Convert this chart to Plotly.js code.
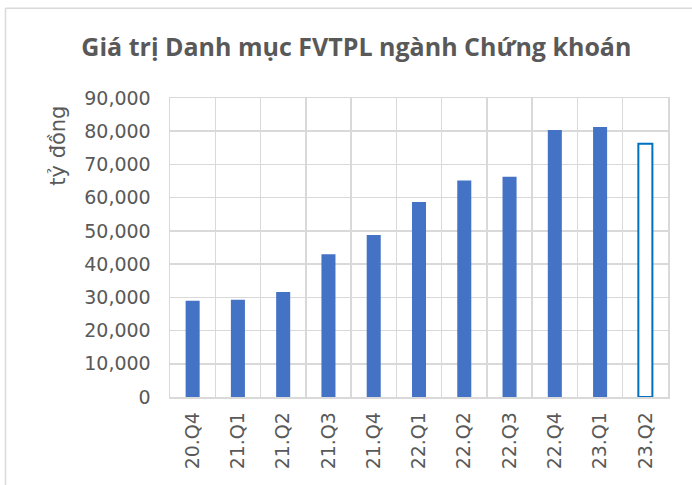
<!DOCTYPE html>
<html>
<head>
<meta charset="utf-8">
<script src="https://cdn.plot.ly/plotly-3.0.1.min.js"></script>
<style>
html,body{margin:0;padding:0;background:#fff;}
#chart{width:692px;height:485px;}
</style>
</head>
<body>
<div id="chart"></div>
<script>
const categories = ["20.Q4","21.Q1","21.Q2","21.Q3","21.Q4","22.Q1","22.Q2","22.Q3","22.Q4","23.Q1","23.Q2"];
const values = [29000, 29300, 31600, 43000, 48800, 58700, 65200, 66300, 80400, 81300, 76200];
const yTickVals = [0,10000,20000,30000,40000,50000,60000,70000,80000,90000];
const titleText = "Giá trị Danh mục FVTPL ngành Chứng khoán";
const yTitleText = "tỷ đồng";

const solid = "#4472C4";
const lastFill = "#FFFFFF";
const lastLine = "#0070C0";
const n = categories.length;
const fillColors = categories.map((c,i)=> i===n-1 ? lastFill : solid);
const lineColors = categories.map((c,i)=> i===n-1 ? lastLine : solid);
const lineWidths = categories.map((c,i)=> i===n-1 ? 2 : 0);

const trace = {
  type: "bar",
  x: categories,
  y: values,
  width: 0.31,
  marker: {color: fillColors, line: {color: lineColors, width: lineWidths}},
  hoverinfo: "x+y"
};

const textColor = "#595959";
const grid = "#D9D9D9";

const layout = {
  width: 692, height: 485,
  margin: {l:170, r:24, t:98, b:88},
  paper_bgcolor: "#fff", plot_bgcolor: "#fff",
  showlegend: false,
  title: {text: titleText, x: 0.515, xanchor: "center", y: 0.903, yanchor: "middle",
          font: {family: "Open Sans, sans-serif", size: 25, color: textColor, weight: 700}},
  xaxis: {type: "category", tickson: "boundaries", showgrid: true, gridcolor: grid, gridwidth: 1.5,
          ticks: "", tickangle: -90, tickfont: {family: "DejaVu Sans, sans-serif", size: 19, color: textColor},
          showline: true, linecolor: grid, linewidth: 1.5, mirror: true, zeroline: false,
          range: [-0.5, n-0.5], ticklabelstandoff: 6},
  yaxis: {range: [0, 90000], tickvals: yTickVals, tickformat: ",", showgrid: true, gridcolor: grid, gridwidth: 1.5,
          ticks: "", tickfont: {family: "DejaVu Sans, sans-serif", size: 19, color: textColor},
          showline: true, linecolor: grid, linewidth: 1.5, mirror: true, zeroline: false,
          ticklabelstandoff: 14},
  annotations: [{text: yTitleText, xref: "paper", yref: "paper",
                 x: (58-170)/498, y: (397.3-146)/299, xanchor: "center", yanchor: "middle",
                 textangle: -90, showarrow: false,
                 font: {family: "DejaVu Sans, sans-serif", size: 21, color: textColor}}],
  shapes: [
    {type: "line", xref: "paper", yref: "paper", x0: (5.5-170)/498, x1: (5.5-170)/498, y0: (397.3-8.5)/299, y1: (397.3-490)/299,
     line: {color: grid, width: 1.5}},
    {type: "line", xref: "paper", yref: "paper", x0: (5.5-170)/498, x1: (700-170)/498, y0: (397.3-8.5)/299, y1: (397.3-8.5)/299,
     line: {color: grid, width: 1.5}}
  ]
};

Plotly.newPlot("chart", [trace], layout, {displayModeBar: false, staticPlot: true});
</script>
</body>
</html>
